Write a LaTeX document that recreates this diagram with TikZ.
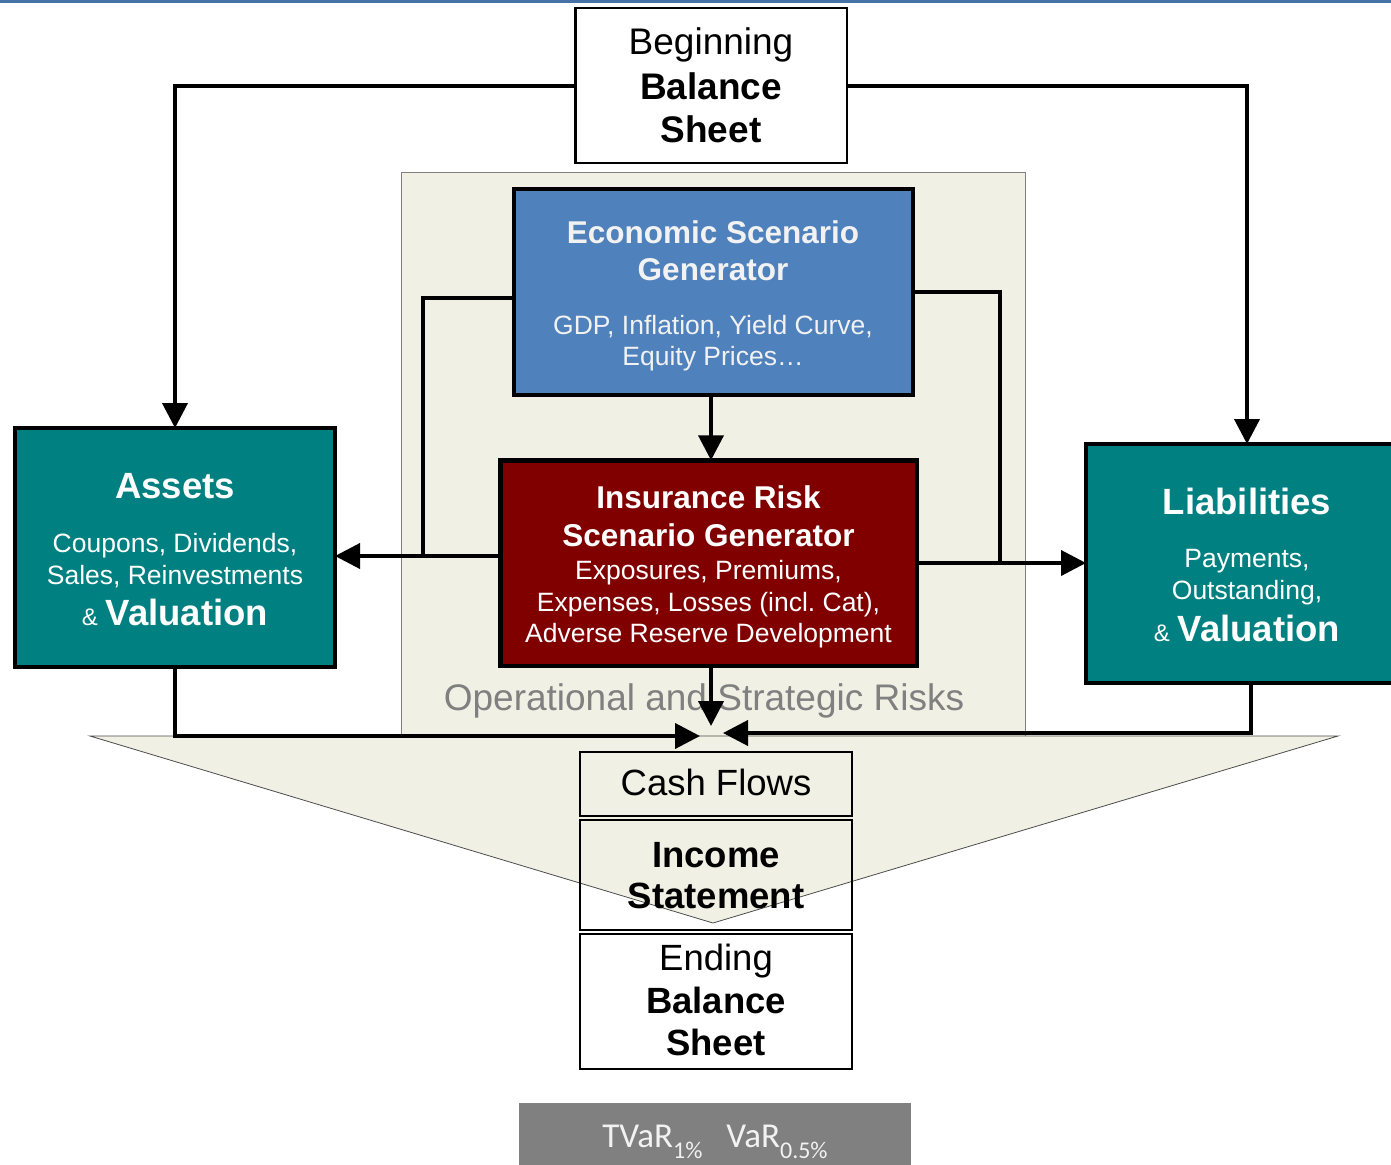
\documentclass[tikz,border=0pt]{standalone}
\usepackage{fontspec}
\setmainfont{Liberation Sans}
\newfontfamily\calib{Carlito}
\usetikzlibrary{arrows.meta,calc}
\definecolor{topblue}{RGB}{70,114,168}
\definecolor{esgblue}{RGB}{79,129,189}
\definecolor{irsgred}{RGB}{128,0,0}
\definecolor{tealbox}{RGB}{0,128,128}
\definecolor{bgpat}{RGB}{240,241,228}
\definecolor{optext}{RGB}{128,128,128}
\definecolor{esgtext}{RGB}{242,242,242}
\definecolor{sumgray}{RGB}{128,128,128}
\newcommand\myfs[1]{\fontsize{#1}{#1}\selectfont}
\frenchspacing
\begin{document}
\begin{tikzpicture}[x=1pt,y=-1pt,
  box/.style={draw=black,inner sep=0pt,outer sep=0pt,rectangle},
  txt/.style={inner sep=0pt,outer sep=0pt,anchor=base},
  conn/.style={line width=4pt,-{Triangle[length=25pt,width=25pt]}},
  link/.style={line width=3.5pt},
]
\useasboundingbox (0,0) rectangle (1391,1164);
% top rule
\fill[topblue] (0,0) rectangle (1391,3);
% background panel and funnel
\draw[gray, line width=1pt, fill=bgpat] (401.5,172.5) rectangle (1025,736);
\draw[gray!60!black, line width=0.8pt, fill=bgpat] (90,736) -- (1338,736) -- (713,923) -- cycle;

% Beginning balance sheet
\node[box, line width=2.5pt, fill=white, minimum width=271.5pt, minimum height=154.5pt] (beg) at (711,85.5) {};
\node[txt, font=\myfs{37}] (beg1) at (711,55) {Beginning};
\node[txt, font=\myfs{37}\bfseries] (beg2) at (711,99) {Balance};
\node[txt, font=\myfs{37}\bfseries] (beg3) at (711,142) {Sheet};

% ESG
\node[box, line width=4pt, fill=esgblue, minimum width=399pt, minimum height=206pt] (esg) at (713.5,292) {};
\node[txt, text=esgtext, font=\myfs{31.5}\bfseries] (esg1) at (713,243) {Economic Scenario};
\node[txt, text=esgtext, font=\myfs{31.5}\bfseries] (esg2) at (713,280) {Generator};
\node[txt, text=esgtext, font=\myfs{26.5}] (esg3) at (713,334) {GDP, Inflation, Yield Curve,};
\node[txt, text=esgtext, font=\myfs{26.5}] (esg4) at (713,365) {Equity Prices\ldots};

% IRSG
\node[box, line width=4.5pt, fill=irsgred, minimum width=416.5pt, minimum height=205.5pt] (irsg) at (708.5,563) {};
\node[txt, text=white, font=\myfs{31.5}\bfseries] (ir1) at (708.5,508) {Insurance Risk};
\node[txt, text=white, font=\myfs{31.5}\bfseries] (ir2) at (708.5,546) {Scenario Generator};
\node[txt, text=white, font=\myfs{26.5}] (ir3) at (708.5,579) {Exposures, Premiums,};
\node[txt, text=white, font=\myfs{26.5}] (ir4) at (708.5,611) {Expenses, Losses (incl. Cat),};
\node[txt, text=white, font=\myfs{26.5}] (ir5) at (708.5,642) {Adverse Reserve Development};

% Assets
\node[box, line width=4pt, fill=tealbox, minimum width=320pt, minimum height=239pt] (assets) at (175,547.5) {};
\node[txt, text=white, font=\myfs{36.5}\bfseries] (as1) at (175,498) {Assets};
\node[txt, text=white, font=\myfs{26.5}] (as2) at (175,552) {Coupons, Dividends,};
\node[txt, text=white, font=\myfs{26.5}] (as3) at (175,584) {Sales, Reinvestments};
\node[txt, text=white] (as4) at (175,625) {{\myfs{24}\&}\hspace{8pt}{\myfs{36.5}\bfseries Valuation}};

% Liabilities
\node[box, line width=4pt, fill=tealbox, minimum width=322pt, minimum height=239pt] (liab) at (1247,563.5) {};
\node[txt, text=white, font=\myfs{36.5}\bfseries] (li1) at (1247,514) {Liabilities};
\node[txt, text=white, font=\myfs{26.5}] (li2) at (1247,567) {Payments,};
\node[txt, text=white, font=\myfs{26.5}] (li3) at (1247,599) {Outstanding,};
\node[txt, text=white] (li4) at (1247,641) {{\myfs{24}\&}\hspace{8pt}{\myfs{36.5}\bfseries Valuation}};

% Operational and strategic risks
\node[txt, text=optext, font=\myfs{37}] (ops) at (704,710) {Operational and Strategic Risks};

% Cash flows / income statement / ending balance sheet
\node[box, line width=2pt, minimum width=272pt, minimum height=64pt] (cf) at (716,784) {};
\node[txt, font=\myfs{36.5}] (cf1) at (716,795) {Cash Flows};
\node[box, line width=2pt, minimum width=272pt, minimum height=110pt] (is) at (716,875) {};
\node[txt, font=\myfs{36.5}\bfseries] (is1) at (716,867) {Income};
\node[txt, font=\myfs{36.5}\bfseries] (is2) at (716,908) {Statement};
\node[box, line width=2pt, fill=white, minimum width=272pt, minimum height=135pt] (eb) at (716,1001.5) {};
\node[txt, font=\myfs{36.5}] (eb1) at (716,970) {Ending};
\node[txt, font=\myfs{36.5}\bfseries] (eb2) at (716,1013) {Balance};
\node[txt, font=\myfs{36.5}\bfseries] (eb3) at (716,1055) {Sheet};

% risk measures
\node[rectangle, fill=sumgray, inner sep=0pt, minimum width=392pt, minimum height=70pt] (risk) at (715,1138) {};
\node[txt, text=esgtext, font=\calib\myfs{35}] (risk1) at (715,1147)
  {TVaR\raisebox{-11pt}{\myfs{24}1\%}\hspace{24pt}VaR\raisebox{-11pt}{\myfs{24}0.5\%}};

% connectors
\coordinate (jl) at (423,556);
\coordinate (jr) at (1000,563);
\coordinate (tipD) at (711,726);
\coordinate (tipL) at (700,736);
\coordinate (tipR) at (723,733);

\draw[conn] (beg.west) -| (assets.north);
\draw[conn] (beg.east) -| (liab.north);
\draw[conn] ([xshift=-2.5pt]esg.south) -- ([xshift=-2.5pt]esg.south |- irsg.north);
\draw[link] ([yshift=-6pt]esg.west) -| (jl);
\draw[conn] ([yshift=7pt]irsg.west) -- ([yshift=7pt]irsg.west -| assets.east);
\draw[link] (esg.east) -| (jr);
\draw[conn] (irsg.east) -- (irsg.east -| liab.west);
\draw[conn] ([xshift=2.5pt]irsg.south) -- (tipD);
\draw[conn] (assets.south) |- (tipL);
\draw[conn] ([xshift=4pt]liab.south) |- (tipR);
\end{tikzpicture}
\end{document}
